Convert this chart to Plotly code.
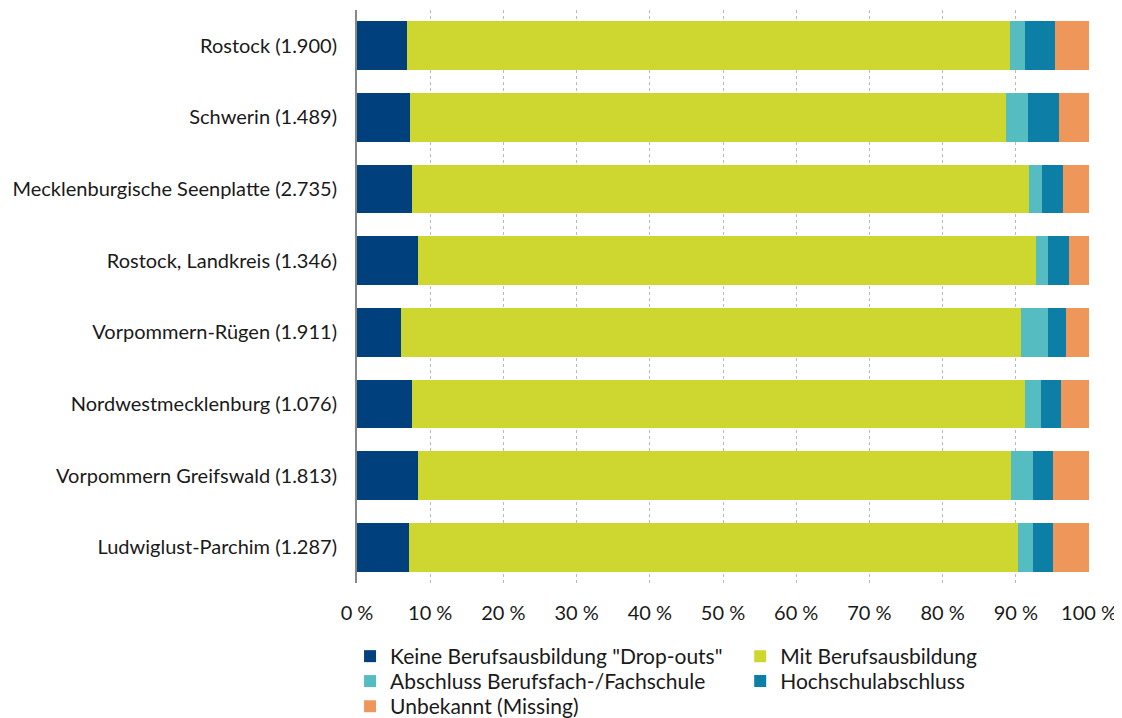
import plotly.graph_objects as go

categories = [
    "Rostock (1.900)",
    "Schwerin (1.489)",
    "Mecklenburgische Seenplatte (2.735)",
    "Rostock, Landkreis (1.346)",
    "Vorpommern-Rügen (1.911)",
    "Nordwestmecklenburg (1.076)",
    "Vorpommern Greifswald (1.813)",
    "Ludwiglust-Parchim (1.287)",
]
series_names = [
    'Keine Berufsausbildung "Drop-outs"',
    "Mit Berufsausbildung",
    "Abschluss Berufsfach-/Fachschule",
    "Hochschulabschluss",
    "Unbekannt (Missing)",
]
keine = [6.8, 7.3, 7.5, 8.4, 6.0, 7.5, 8.4, 7.1]
mit = [82.4, 81.4, 84.3, 84.3, 84.7, 83.8, 81.0, 83.2]
fachschule = [2.0, 2.9, 1.8, 1.7, 3.7, 2.1, 2.9, 2.0]
hochschule = [4.1, 4.3, 2.8, 2.9, 2.4, 2.8, 2.8, 2.8]
unbekannt = [4.7, 4.1, 3.6, 2.7, 3.2, 3.8, 4.9, 4.9]
tick_vals = [0, 10, 20, 30, 40, 50, 60, 70, 80, 90, 100]
tick_text = ["0 %", "10 %", "20 %", "30 %", "40 %", "50 %", "60 %", "70 %", "80 %", "90 %", "100 %"]

colors = ["#00407D", "#CED730", "#55BDC1", "#0D7FA6", "#EF975B"]
values = [keine, mit, fachschule, hochschule, unbekannt]
legend_ids = ["legend", "legend2", "legend3", "legend4", "legend5"]

FONT = "Lato"
TXT = "#1a1a1a"

fig = go.Figure()
for name, vals, col, lg in zip(series_names, values, colors, legend_ids):
    fig.add_trace(go.Bar(
        y=categories, x=vals, name=name, orientation="h",
        marker=dict(color=col, line=dict(width=0)),
        width=0.68, legend=lg,
    ))

legend_common = dict(
    orientation="v", yanchor="top", xanchor="left",
    font=dict(family=FONT, size=21, color=TXT),
    tracegroupgap=0, traceorder="normal", bgcolor="rgba(0,0,0,0)",
)
col1_x, col2_x = -0.0095, 0.5235
row_y = [-0.0925, -0.136, -0.180]

fig.update_layout(
    barmode="stack",
    width=1122, height=718,
    margin=dict(l=349, r=41, t=2, b=143, autoexpand=False),
    plot_bgcolor="white", paper_bgcolor="white",
    font=dict(family=FONT, size=20, color=TXT),
    showlegend=True,
    legend=dict(x=col1_x, y=row_y[0], **legend_common),
    legend2=dict(x=col2_x, y=row_y[0], **legend_common),
    legend3=dict(x=col1_x, y=row_y[1], **legend_common),
    legend4=dict(x=col2_x, y=row_y[1], **legend_common),
    legend5=dict(x=col1_x, y=row_y[2], **legend_common),
    xaxis=dict(
        range=[0, 100], tickvals=tick_vals, ticktext=tick_text,
        showgrid=True, gridcolor="#BBBBBB", griddash="dot", gridwidth=1,
        zeroline=False, showline=False, ticks="",
        ticklabelstandoff=16,
        tickfont=dict(family=FONT, size=20, color=TXT),
    ),
    yaxis=dict(
        autorange="reversed", showline=True, linecolor="#888888", linewidth=2,
        ticks="", ticklabelstandoff=14, showgrid=False,
        tickfont=dict(family=FONT, size=20, color=TXT),
    ),
)

fig.write_html("out.html")
